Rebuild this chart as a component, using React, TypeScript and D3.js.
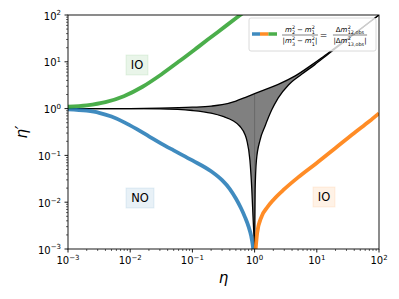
import React from 'react';
import * as d3 from 'd3';

// values (eta, eta')
const blueEta = [0.001, 0.002, 0.00316, 0.005, 0.0079, 0.0126, 0.02, 0.0316, 0.05, 0.1, 0.2, 0.3, 0.4, 0.5, 0.6, 0.7, 0.8, 0.88, 0.93, 0.95];
const blueEtaP = [0.966, 0.9, 0.813, 0.676, 0.515, 0.368, 0.256, 0.179, 0.128, 0.078, 0.0457, 0.0295, 0.0191, 0.012, 0.0076, 0.0048, 0.003, 0.0019, 0.00126, 0.001];

const greenEta = [0.001, 0.002, 0.004, 0.0079, 0.0158, 0.0316, 0.063, 0.126, 0.251, 0.5, 0.79];
const greenEtaP = [1.096, 1.175, 1.372, 1.84, 2.93, 5.37, 10.5, 21.1, 42.5, 85, 135];

const orangeEta = [1.04, 1.1, 1.3, 1.6, 2, 3, 5, 10, 20, 40, 70, 100];
const orangeEtaP = [0.001, 0.0022, 0.005, 0.0078, 0.0112, 0.019, 0.0339, 0.0692, 0.1445, 0.302, 0.537, 0.794];

const upperEta = [0.001, 0.01, 0.03, 0.1, 0.2, 0.3, 0.5, 0.7, 1, 1.47, 2.4, 4.5, 8.3, 12, 20, 30, 55, 100];
const upperEtaP = [1.0, 1.003, 1.02, 1.07, 1.13, 1.21, 1.45, 1.72, 2.08, 2.55, 3.3, 5.0, 8.6, 12.2, 20.2, 30, 55, 100];

const lowLeftEta = [0.001, 0.01, 0.03, 0.1, 0.2, 0.31, 0.45, 0.58, 0.7, 0.75, 0.84, 0.9, 0.95, 1];
const lowLeftEtaP = [1.0, 0.997, 0.985, 0.91, 0.8, 0.68, 0.55, 0.42, 0.28, 0.21, 0.08, 0.02, 0.004, 0.001];

const lowRightEta = [1, 1.01, 1.02, 1.07, 1.22, 1.47, 1.88, 2.4, 3.5, 5.7, 9.3, 15, 30, 60, 100];
const lowRightEtaP = [0.001, 0.004, 0.018, 0.079, 0.21, 0.42, 0.93, 1.7, 3.2, 5.4, 8.7, 14.3, 29.3, 59.5, 100];

const tickExps = [-3, -2, -1, 0, 1, 2];

const W = 399;
const H = 299;
const margin = { top: 15, right: 20, bottom: 50, left: 68 };
const FONT = '"DejaVu Sans", sans-serif';

const measureCtx = typeof document !== 'undefined' ? document.createElement('canvas').getContext('2d') : null;
function textWidth(s: string, size: number, italic?: boolean) {
  if (!measureCtx) return s.length * size * 0.6;
  measureCtx.font = `${italic ? 'italic ' : ''}${size}px "DejaVu Sans"`;
  return measureCtx.measureText(s).width;
}

type Tok = { s: string; it?: boolean; sup?: string; sub?: string; pad?: number };

function tokWidth(t: Tok, size: number) {
  const ss = size * 0.7;
  const bw = textWidth(t.s, size, t.it);
  const sw = Math.max(t.sup ? textWidth(t.sup, ss) : 0, t.sub ? textWidth(t.sub, ss) : 0);
  return { bw, total: bw + sw + (sw ? 0.4 : 0) + 2 * (t.pad || 0) };
}

// lays out a little math row centred on cx
function MathRow({ toks, cx, y, size }: { toks: Tok[]; cx: number; y: number; size: number }) {
  const ss = size * 0.7;
  const widths = toks.map(t => tokWidth(t, size));
  const total = d3.sum(widths, w => w.total);
  let x = cx - total / 2;
  const out: any[] = [];
  toks.forEach((t, i) => {
    const bx = x + (t.pad || 0);
    out.push(
      <text key={'b' + i} x={bx} y={y} fontSize={size} fontStyle={t.it ? 'italic' : 'normal'}>
        {t.s}
      </text>
    );
    if (t.sup) out.push(<text key={'p' + i} x={bx + widths[i].bw + 0.3} y={y - size * 0.42} fontSize={ss}>{t.sup}</text>);
    if (t.sub) out.push(<text key={'s' + i} x={bx + widths[i].bw + 0.3} y={y + size * 0.3} fontSize={ss}>{t.sub}</text>);
    x += widths[i].total;
  });
  return <g fontFamily={FONT} fill="#000">{out}</g>;
}

function Fraction({ num, den, cx, y, size }: { num: Tok[]; den: Tok[]; cx: number; y: number; size: number }) {
  const w = (toks: Tok[]) => d3.sum(toks, t => tokWidth(t, size).total);
  const bw = Math.max(w(num), w(den)) + 1;
  return (
    <g>
      <MathRow toks={num} cx={cx} y={y - 3.2} size={size} />
      <line x1={cx - bw / 2} x2={cx + bw / 2} y1={y} y2={y} stroke="#000" strokeWidth={0.5} />
      <MathRow toks={den} cx={cx} y={y + 8.4} size={size} />
    </g>
  );
}

export default function App() {
  const x = d3.scaleLog().domain([1e-3, 1e2]).range([margin.left, W - margin.right]);
  const y = d3.scaleLog().domain([1e-3, 1e2]).range([H - margin.bottom, margin.top]);
  const [x0, x1] = x.range();
  const [y0, y1] = y.range();

  const pts = (xs: number[], ys: number[]) => xs.map((v, i) => [v, ys[i]] as [number, number]);
  const line = d3
    .line<[number, number]>()
    .x(d => x(d[0]))
    .y(d => y(d[1]))
    .curve(d3.curveMonotoneX);
  const under = d3
    .area<[number, number]>()
    .x(d => x(d[0]))
    .y0(y0 + 5)
    .y1(d => y(d[1]))
    .curve(d3.curveMonotoneX);

  const upper = pts(upperEta, upperEtaP);
  const lowLeft = pts(lowLeftEta, lowLeftEtaP);
  const lowRight = pts(lowRightEta, lowRightEtaP);

  const majors = tickExps.map(e => Math.pow(10, e));
  const minors: number[] = [];
  tickExps.slice(0, -1).forEach(e => {
    for (let m = 2; m <= 9; m++) minors.push(m * Math.pow(10, e));
  });

  const sup = (e: number) => (e < 0 ? '\u2212' + Math.abs(e) : String(e));

  const labelBox = (cx: number, cy: number, txt: string, color: string) => {
    const w = txt === 'NO' ? 28 : 22;
    return (
      <g key={txt + cx}>
        <rect x={cx - w / 2} y={cy - 10} width={w} height={20} fill={color} fillOpacity={0.1} stroke={color} strokeOpacity={0.1} strokeWidth={1} />
        <text x={cx} y={cy + 4.2} textAnchor="middle" fontFamily={FONT} fontSize={11.5} fill="#000">
          {txt}
        </text>
      </g>
    );
  };

  return (
    <svg width={W} height={H} style={{ position: 'absolute', left: 0, top: 0, background: '#fff' }}>
      <defs>
        <clipPath id="plot-clip">
          <rect x={x0} y={y1} width={x1 - x0} height={y0 - y1} />
        </clipPath>
      </defs>

      <g clipPath="url(#plot-clip)">
        {/* shaded band: grey under the upper curve, white under both lower branches */}
        <path d={under(upper) as string} fill="#808080" />
        <path d={under(lowLeft) as string} fill="#fff" />
        <path d={under(lowRight) as string} fill="#fff" />
        <line x1={x(1)} x2={x(1)} y1={y(upperEtaP[upperEta.indexOf(1)])} y2={y0} stroke="#606060" strokeWidth={0.7} />
        <path d={line(upper) as string} fill="none" stroke="#000" strokeWidth={1.3} />
        <path d={line(lowLeft) as string} fill="none" stroke="#000" strokeWidth={1.3} />
        <path d={line(lowRight) as string} fill="none" stroke="#000" strokeWidth={1.3} />

        <path d={line(pts(blueEta, blueEtaP)) as string} fill="none" stroke="#1f77b4" strokeOpacity={0.85} strokeWidth={3.8} />
        <path d={line(pts(orangeEta, orangeEtaP)) as string} fill="none" stroke="#ff7f0e" strokeOpacity={0.9} strokeWidth={3.8} />
        <path d={line(pts(greenEta, greenEtaP)) as string} fill="none" stroke="#2ca02c" strokeOpacity={0.85} strokeWidth={3.8} />
      </g>

      {labelBox(137, 65, 'IO', '#2ca02c')}
      {labelBox(140, 198, 'NO', '#1f77b4')}
      {labelBox(324, 197, 'IO', '#ff7f0e')}

      {/* frame */}
      <rect x={x0} y={y1} width={x1 - x0} height={y0 - y1} fill="none" stroke="#000" strokeWidth={0.9} />

      {/* ticks */}
      {majors.map(v => (
        <g key={'mx' + v} stroke="#000" strokeWidth={0.9}>
          <line x1={x(v)} x2={x(v)} y1={y0} y2={y0 + 3.5} />
          <line x1={x0} x2={x0 - 3.5} y1={y(v)} y2={y(v)} />
        </g>
      ))}
      {minors.map(v => (
        <g key={'mn' + v} stroke="#000" strokeWidth={0.6}>
          <line x1={x(v)} x2={x(v)} y1={y0} y2={y0 + 2} />
          <line x1={x0} x2={x0 - 2} y1={y(v)} y2={y(v)} />
        </g>
      ))}

      {/* tick labels */}
      <g fontFamily={FONT} fill="#000">
        {tickExps.map(e => (
          <text key={'tx' + e} x={x(Math.pow(10, e))} y={264} textAnchor="middle" fontSize={10}>
            10
            <tspan dy={-4.2} fontSize={7}>
              {sup(e)}
            </tspan>
          </text>
        ))}
        {tickExps.map(e => (
          <text key={'ty' + e} x={61} y={y(Math.pow(10, e)) + 4.5} textAnchor="end" fontSize={10}>
            10
            <tspan dy={-4.2} fontSize={7}>
              {sup(e)}
            </tspan>
          </text>
        ))}
      </g>

      {/* axis labels */}
      <text x={(x0 + x1) / 2} y={283} textAnchor="middle" fontFamily={FONT} fontStyle="italic" fontSize={15}>
        η
      </text>
      <text transform={`translate(27, ${(y0 + y1) / 2}) rotate(-90)`} textAnchor="middle" fontFamily={FONT} fontStyle="italic" fontSize={15}>
        η′
      </text>

      {/* legend */}
      <g>
        <rect x={249} y={18} width={127} height={33} rx={2} fill="#fff" fillOpacity={0.8} stroke="#d0d0d0" strokeWidth={0.8} />
        <line x1={252} x2={260} y1={34} y2={34} stroke="#1f77b4" strokeOpacity={0.85} strokeWidth={3.5} />
        <line x1={260} x2={268.5} y1={34} y2={34} stroke="#ff7f0e" strokeOpacity={0.9} strokeWidth={3.5} />
        <line x1={268.5} x2={277} y1={34} y2={34} stroke="#2ca02c" strokeOpacity={0.85} strokeWidth={3.5} />
        <Fraction
          cx={300}
          y={35}
          size={7}
          num={[{ s: 'm', it: true, sup: '2', sub: '2' }, { s: '\u2212', pad: 1.8 }, { s: 'm', it: true, sup: '2', sub: '1' }]}
          den={[{ s: '|' }, { s: 'm', it: true, sup: '2', sub: '3' }, { s: '\u2212', pad: 1.8 }, { s: 'm', it: true, sup: '2', sub: '1' }, { s: '|' }]}
        />
        <text x={323.5} y={38} textAnchor="middle" fontFamily={FONT} fontSize={9}>
          =
        </text>
        <Fraction
          cx={350}
          y={35}
          size={7}
          num={[{ s: 'Δ' }, { s: 'm', it: true, sup: '2', sub: '12,obs' }]}
          den={[{ s: '|Δ' }, { s: 'm', it: true, sup: '2', sub: '13,obs' }, { s: '|' }]}
        />
      </g>
    </svg>
  );
}
